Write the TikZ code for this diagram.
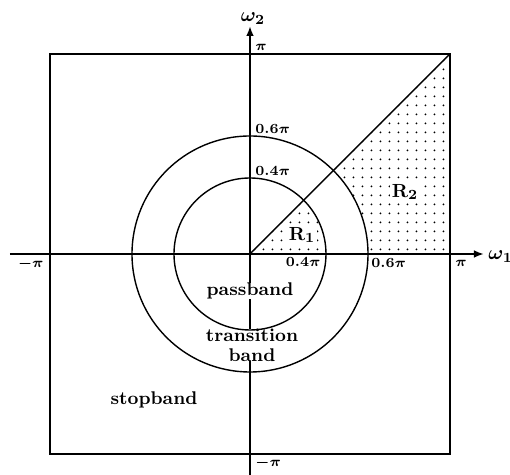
\documentclass[tikz,border=0pt]{standalone}
\usepackage{amsmath, amssymb}
\usepackage{tikz}
\usetikzlibrary{arrows.meta}

\begin{document}
\begin{tikzpicture}[
  x=0.5pt, y=0.5pt,
  axis/.style={line width=0.9pt, -{Latex[length=5pt,width=3.8pt]}},
  frame/.style={line width=0.7pt},
  band/.style={font=\fontsize{9.2}{10}\selectfont\bfseries, inner sep=0pt, align=center, fill=white},
  tick/.style={font=\fontsize{7.5}{8}\selectfont\bfseries\boldmath, inner sep=1pt},
  axlabel/.style={font=\fontsize{10}{10}\selectfont\boldmath, inner sep=0pt},
  region/.style={font=\fontsize{9.5}{10}\selectfont\bfseries\boldmath, inner sep=1pt, fill=white},
]
  \useasboundingbox (-250,-221) rectangle (260,254);
  \def\rin{76}
  \def\rout{118}

  \coordinate (o)  at (0,0);
  \coordinate (ne) at (200,200);
  \coordinate (xl) at (-240,0);
  \coordinate (xr) at (234,0);
  \coordinate (yb) at (0,-222);
  \coordinate (yt) at (0,228);

  % dotted regions R1 and R2
  \begin{scope}
    \clip (o) -- (200,0) -- (ne) -- cycle;
    \foreach \x in {4.5,13.5,...,200}
      \foreach \y in {4.5,13.5,...,200}
        \fill (\x,\y) circle (0.5pt);
    \fill[white] (o) circle (\rout);
    \clip (o) circle (\rin);
    \foreach \x in {4.5,13.5,...,80}
      \foreach \y in {4.5,13.5,...,80}
        \fill (\x,\y) circle (0.5pt);
  \end{scope}

  \draw[axis] (xl) -- (xr);
  \draw[axis] (yb) -- (yt);

  \node[band] (pass)  at (0,-37)  {passband};
  \node[band] (trans) at (2,-91)  {transition\\band};
  \node[band, fill=none] (stop) at (-96,-146) {stopband};

  \draw[frame] (-200,-200) rectangle (ne);
  \draw[frame] (o) circle (\rin);
  \draw[frame] (o) circle (\rout);
  \draw[frame] (o) -- (ne);

  \node[axlabel, anchor=south] (w2) at (3,229) {$\omega_2$};
  \node[axlabel, anchor=west]  (w1) at (238,-3) {$\omega_1$};

  \node[tick, anchor=south west] (pitop)  at (3,201)    {$\pi$};
  \node[tick, anchor=north west] (pibot)  at (3,-201)   {$-\pi$};
  \node[tick, anchor=north east] (pileft) at (-204,-2)  {$-\pi$};
  \node[tick, anchor=north west] (piright) at (203,-4)  {$\pi$};
  \node[tick, anchor=south west] (ytin)   at (3,\rin)   {$0.4\pi$};
  \node[tick, anchor=south west] (ytout)  at (3,\rout)  {$0.6\pi$};
  \node[tick, anchor=north east] (xtin)   at (73,-1)    {$0.4\pi$};
  \node[tick, anchor=north west] (xtout)  at (119,-2)   {$0.6\pi$};

  \node[region] (r1) at (52,19) {R$_{\mathbf 1}$};
  \node[region] (r2) at (155,62) {R$_{\mathbf 2}$};
\end{tikzpicture}
\end{document}
